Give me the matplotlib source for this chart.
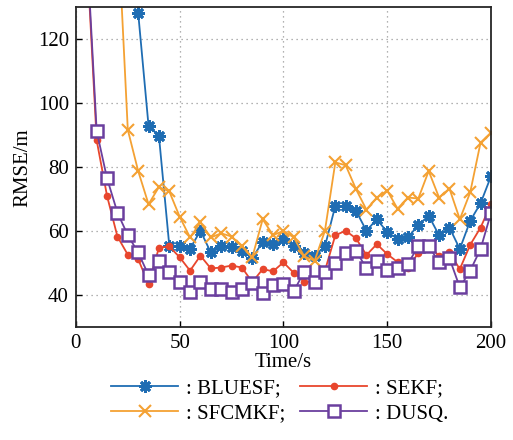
import numpy as np
import matplotlib
matplotlib.use("Agg")
import matplotlib.pyplot as plt

plt.rcParams['font.family'] = ['Liberation Serif', 'DejaVu Serif']
plt.rcParams['mathtext.fontset'] = 'stix'

# RMSE of each filter sampled every 5 s
t = np.arange(5, 205, 5)

bluesf = [200, 195, 190, 185, 175, 128.3, 92.9, 89.8, 55.4, 55.4,
          54.5, 60.1, 53.3, 55.4, 54.9, 53.9, 51.5, 56.7, 56.0, 57.5,
          55.2, 53.1, 52.3, 55.2, 67.9, 67.9, 66.3, 60.1, 63.7, 59.7,
          57.6, 58.0, 61.9, 64.8, 58.7, 61.1, 54.4, 63.2, 68.7, 77.1]

sekf = [150, 88.4, 71.0, 58.3, 52.6, 51.2, 43.4, 54.8, 55.2, 51.8,
        47.6, 52.3, 48.3, 48.6, 49.2, 48.6, 44.0, 48.1, 47.4, 50.2,
        46.9, 44.2, 44.0, 47.6, 58.7, 60.1, 57.7, 52.5, 55.9, 52.8,
        50.3, 48.6, 53.1, 55.9, 52.1, 53.3, 48.1, 55.7, 61.1, 68.4]

sfcmkf = [200, 190, 175, 158, 91.7, 78.8, 68.4, 73.8, 72.4, 64.5,
          58.0, 62.7, 58.0, 59.3, 58.3, 55.2, 51.8, 63.7, 58.7, 60.1,
          58.0, 52.1, 50.7, 60.1, 81.5, 80.6, 73.1, 66.7, 70.5, 72.7,
          67.0, 70.5, 70.2, 78.8, 70.5, 73.3, 63.7, 72.1, 87.7, 90.8]

dusq = [152, 91.3, 76.5, 65.8, 58.7, 53.3, 46.2, 50.5, 47.3, 44.0,
        40.8, 44.0, 41.9, 41.9, 40.8, 41.9, 43.7, 40.6, 43.1, 43.4,
        41.2, 47.3, 44.2, 47.3, 50.0, 53.1, 53.9, 48.3, 50.7, 47.7,
        48.5, 49.7, 55.4, 55.4, 50.2, 51.5, 42.4, 47.6, 54.4, 65.6]

fig = plt.figure(figsize=(5.13, 4.40), dpi=100)
ax = fig.add_axes([0.148, 0.257, 0.809, 0.726])

h1, = ax.plot(t, bluesf, color='#1f6db3', lw=1.3, marker=(8, 2, 0), ms=9,
              mew=2.0, label=': BLUESF;')
h2, = ax.plot(t, sekf, color='#e8462d', lw=1.3, marker='o', ms=4.5,
              label=': SEKF;')
h3, = ax.plot(t, sfcmkf, color='#f4a133', lw=1.3, marker='x', ms=8, mew=1.5,
              label=': SFCMKF;')
h4, = ax.plot(t, dusq, color='#6b3f9e', lw=1.3, marker='s', ms=8.5, mew=1.8,
              mfc='white', label=': DUSQ.')

ax.set_xlim(0, 200)
ax.set_ylim(30, 130)
ax.set_xticks([0, 50, 100, 150, 200])
ax.set_yticks([40, 60, 80, 100, 120])
ax.grid(True, ls=(0, (1, 3)), color='#999999', lw=0.9)
ax.tick_params(direction='in', labelsize=15, length=4, width=1.0, pad=5)
for s in ax.spines.values():
    s.set_linewidth(1.3)
    s.set_color('#262626')

ax.set_xlabel('Time/s', fontsize=15, labelpad=0)
ax.set_ylabel('RMSE/m', fontsize=15, labelpad=4)

# row-wise order: BLUESF, SEKF / SFCMKF, DUSQ
fig.legend([h1, h3, h2, h4], [h1.get_label(), h3.get_label(),
                              h2.get_label(), h4.get_label()],
           loc='upper center', bbox_to_anchor=(0.546, 0.168), ncol=2,
           frameon=False, fontsize=15, handlelength=3.2, handletextpad=0.4,
           columnspacing=0.7, labelspacing=0.28, borderpad=0.1)

fig.savefig('out.png', dpi=100)
